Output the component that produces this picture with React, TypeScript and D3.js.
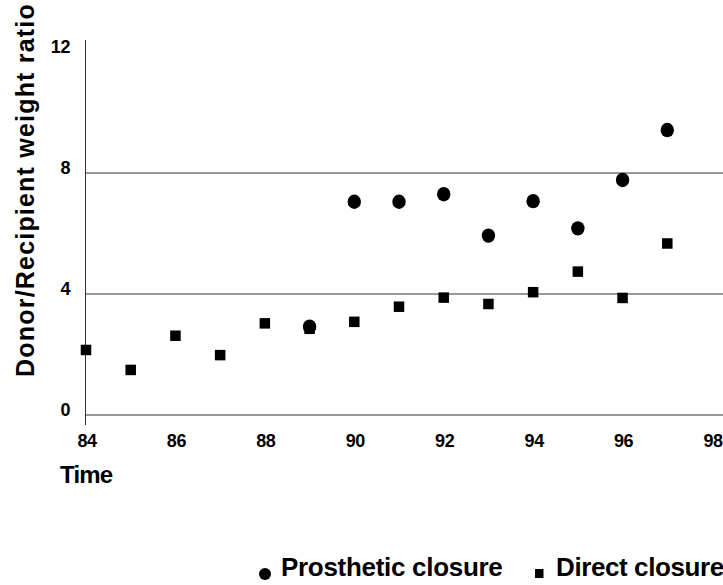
import React from 'react';
import * as d3 from 'd3';

// values
const directYears = [84, 85, 86, 87, 88, 89, 90, 91, 92, 93, 94, 95, 96, 97];
const directRatio = [2.15, 1.49, 2.62, 1.98, 3.03, 2.85, 3.08, 3.58, 3.88, 3.67, 4.06, 4.74, 3.87, 5.67];
const prostheticYears = [89, 90, 91, 92, 93, 94, 95, 96, 97];
const prostheticRatio = [2.92, 7.05, 7.05, 7.3, 5.93, 7.07, 6.17, 7.77, 9.42];
const xTicks = [84, 86, 88, 90, 92, 94, 96, 98];
const yTicks = [0, 4, 8, 12];
const gridValues = [0, 4, 8];

const FONT = '"Liberation Sans", Arial, Helvetica, sans-serif';

const App = () => {
  const ref = React.useRef<SVGSVGElement>(null);

  React.useEffect(() => {
    const width = 723;
    const height = 585;
    const svg = d3.select(ref.current);
    svg.selectAll('*').remove();
    svg.attr('width', width).attr('height', height);

    const x = d3.scaleLinear().domain([84, 98]).range([86, 712]);
    const y = d3.scaleLinear().domain([0, 12]).range([415, 52]);

    // gridlines
    svg.selectAll('.grid')
      .data(gridValues)
      .enter()
      .append('line')
      .attr('x1', 85)
      .attr('x2', width)
      .attr('y1', d => y(d))
      .attr('y2', d => y(d))
      .attr('stroke', '#333')
      .attr('stroke-width', 1);

    // y axis line
    svg.append('line')
      .attr('x1', 85.5)
      .attr('x2', 85.5)
      .attr('y1', 40)
      .attr('y2', y(0) + 10)
      .attr('stroke', '#333')
      .attr('stroke-width', 1);

    // y tick labels
    svg.selectAll('.ylab')
      .data(yTicks)
      .enter()
      .append('text')
      .attr('x', 70)
      .attr('y', d => y(d) + 1)
      .attr('text-anchor', 'end')
      .style('font-family', FONT)
      .style('font-size', '18px')
      .style('font-weight', 'bold')
      .style('letter-spacing', '-0.4px')
      .text(d => d);

    // x tick labels
    svg.selectAll('.xlab')
      .data(xTicks)
      .enter()
      .append('text')
      .attr('x', d => x(d) + 1)
      .attr('y', 447)
      .attr('text-anchor', 'middle')
      .style('font-family', FONT)
      .style('font-size', '18px')
      .style('font-weight', 'bold')
      .style('letter-spacing', '-0.4px')
      .text(d => d);

    // axis titles
    svg.append('text')
      .attr('x', 60)
      .attr('y', 483)
      .style('font-family', FONT)
      .style('font-size', '24px')
      .style('font-weight', 'bold')
      .style('letter-spacing', '-0.8px')
      .text('Time');

    svg.append('text')
      .attr('transform', 'translate(34,190) rotate(-90)')
      .attr('text-anchor', 'middle')
      .style('font-family', FONT)
      .style('font-size', '25px')
      .style('font-weight', 'bold')
      .style('letter-spacing', '1.2px')
      .text('Donor/Recipient weight ratio');

    // direct closure squares
    const sq = 10.5;
    svg.selectAll('.direct')
      .data(directYears.map((yr, i) => ({ yr, v: directRatio[i] })))
      .enter()
      .append('rect')
      .attr('x', d => x(d.yr) - sq / 2)
      .attr('y', d => y(d.v) - sq / 2)
      .attr('width', sq)
      .attr('height', sq)
      .attr('fill', '#000');

    // prosthetic closure circles
    svg.selectAll('.prosthetic')
      .data(prostheticYears.map((yr, i) => ({ yr, v: prostheticRatio[i] })))
      .enter()
      .append('ellipse')
      .attr('cx', d => x(d.yr))
      .attr('cy', d => y(d.v))
      .attr('rx', 6.7)
      .attr('ry', 7.2)
      .attr('fill', '#000');

    // legend
    const legend = svg.append('g');
    legend.append('circle').attr('cx', 265).attr('cy', 574).attr('r', 6).attr('fill', '#000');
    legend.append('text')
      .attr('x', 281)
      .attr('y', 576)
      .style('font-family', FONT)
      .style('font-size', '26px')
      .style('font-weight', 'bold')
      .style('letter-spacing', '-0.3px')
      .text('Prosthetic closure');
    legend.append('rect').attr('x', 535).attr('y', 569).attr('width', 8.5).attr('height', 9).attr('fill', '#000');
    legend.append('text')
      .attr('x', 556)
      .attr('y', 576)
      .style('font-family', FONT)
      .style('font-size', '26px')
      .style('font-weight', 'bold')
      .style('letter-spacing', '-0.4px')
      .text('Direct closure');
  }, []);

  return (
    <svg ref={ref} style={{ position: 'absolute', left: 0, top: 0, background: '#fff' }} />
  );
};

export default App;
